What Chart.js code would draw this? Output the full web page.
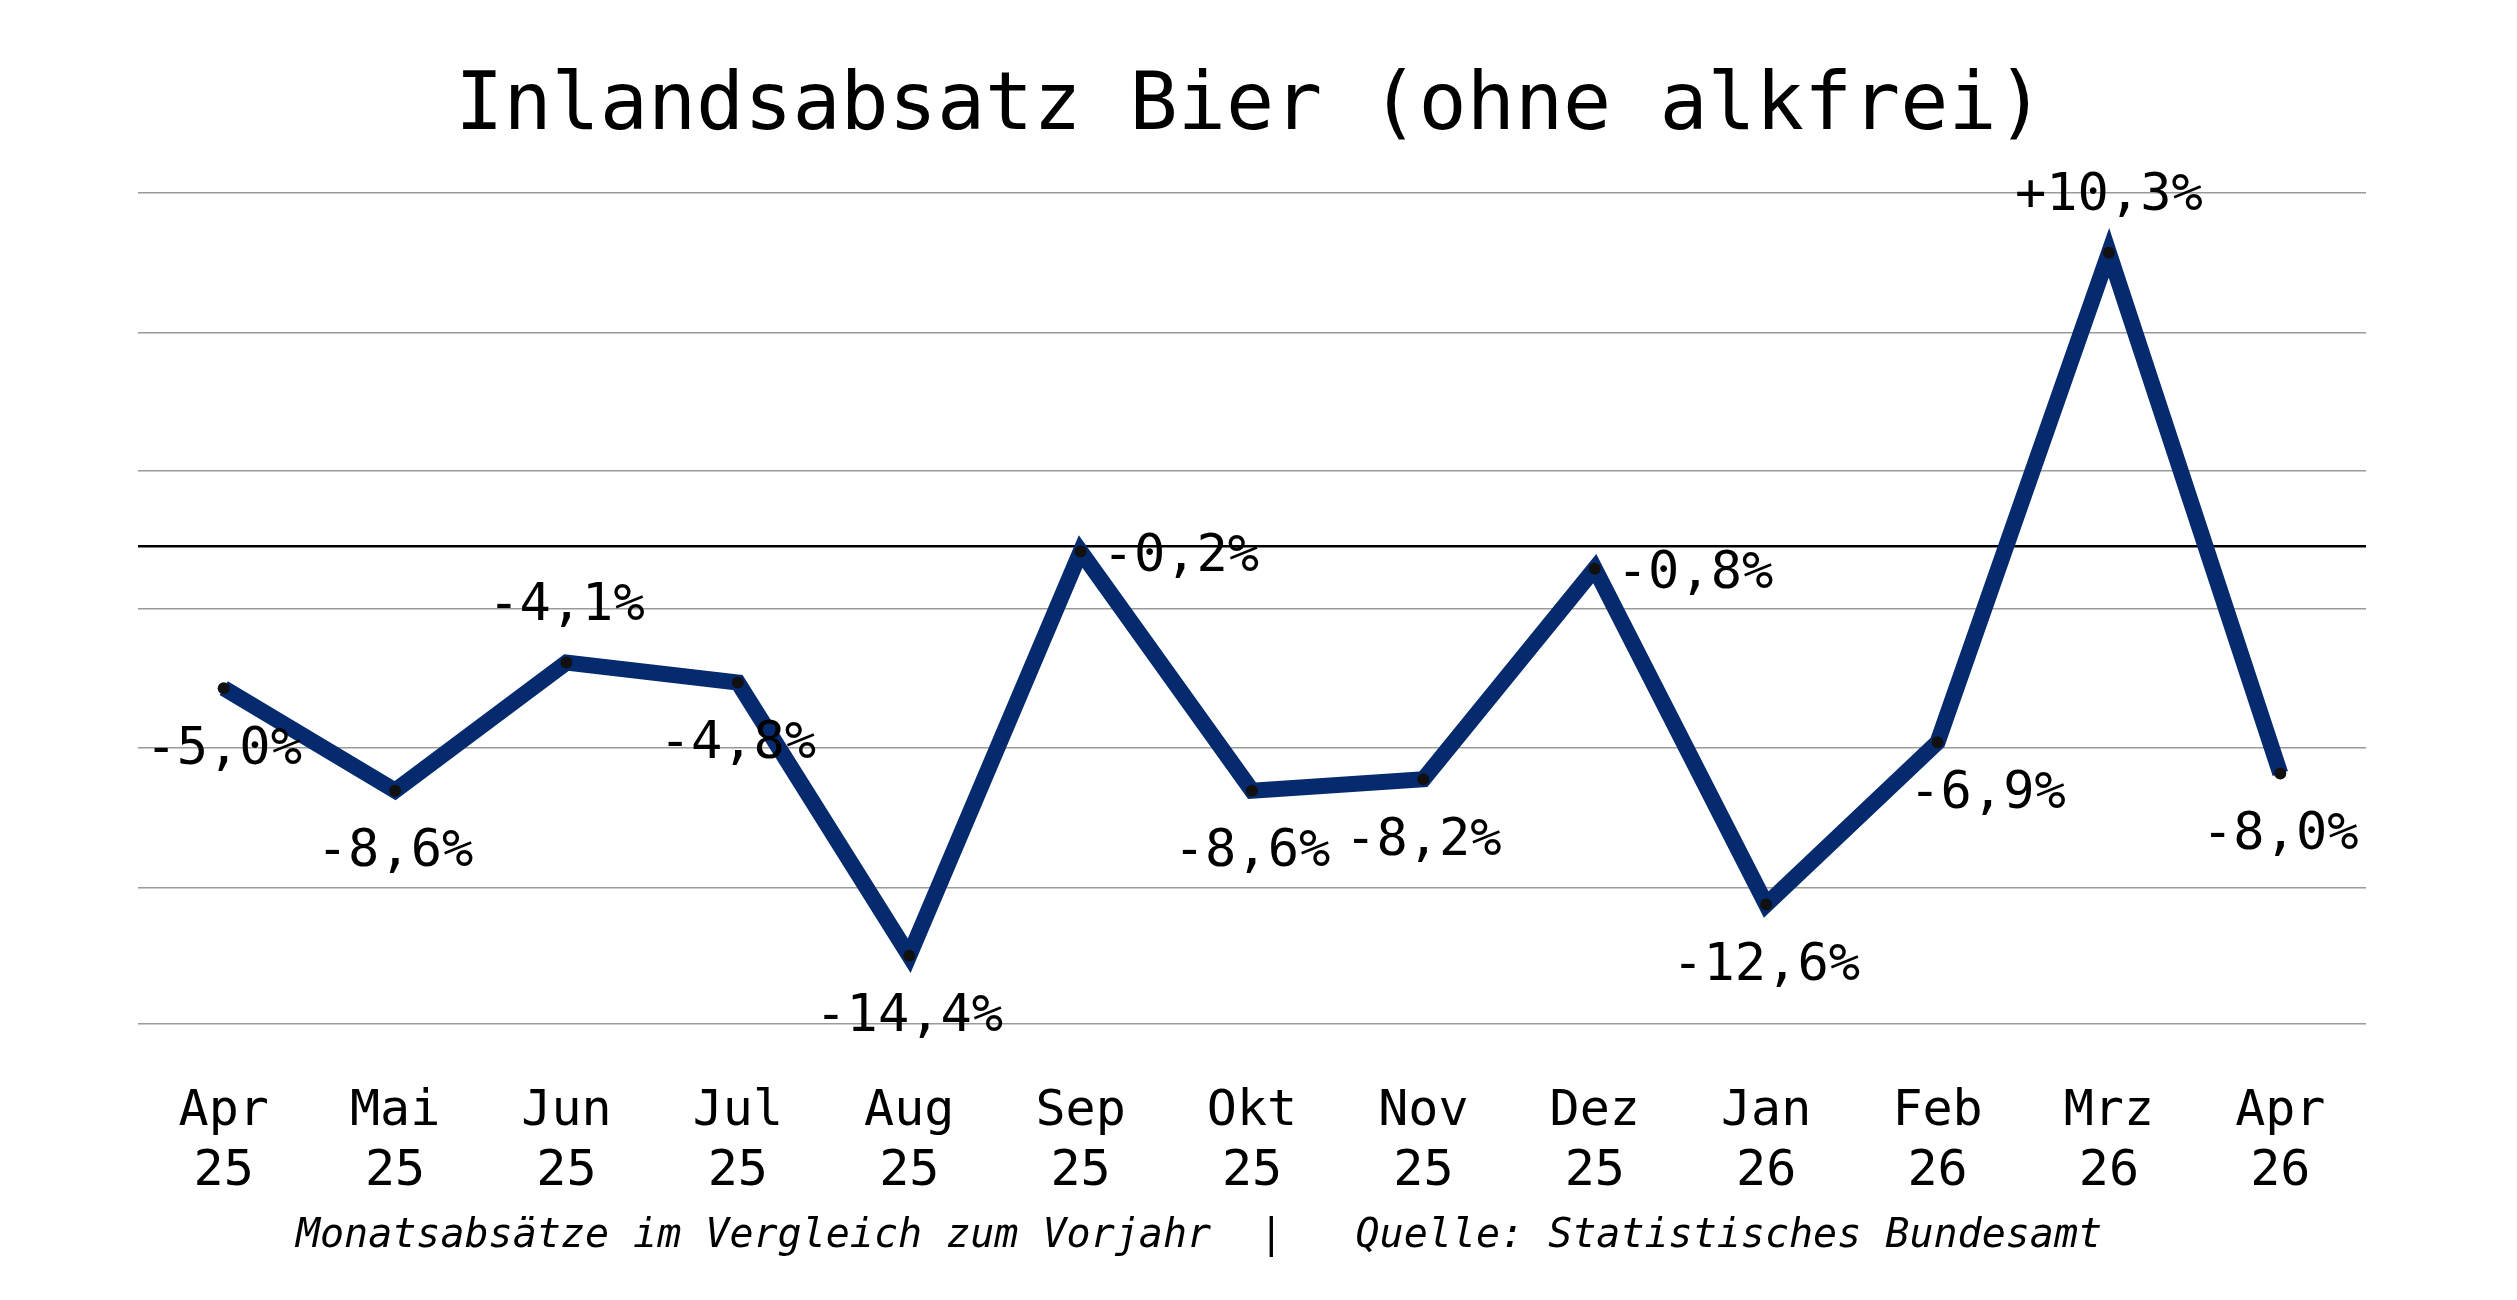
<!DOCTYPE html>
<html><head><meta charset="utf-8">
<script src="https://cdn.jsdelivr.net/npm/chart.js@4"></script>
<style>html,body{margin:0;padding:0;background:#fff}#w{width:2517px;height:1300px}</style>
</head><body><div id="w"><canvas id="c"></canvas></div>
<script>
const months = [["Apr","25"],["Mai","25"],["Jun","25"],["Jul","25"],["Aug","25"],["Sep","25"],["Okt","25"],["Nov","25"],["Dez","25"],["Jan","26"],["Feb","26"],["Mrz","26"],["Apr","26"]];
const values = [-5.0,-8.6,-4.1,-4.8,-14.4,-0.2,-8.6,-8.2,-0.8,-12.6,-6.9,10.3,-8.0];
const valueLabels = ["-5,0%","-8,6%","-4,1%","-4,8%","-14,4%","-0,2%","-8,6%","-8,2%","-0,8%","-12,6%","-6,9%","+10,3%","-8,0%"];
const labelSide = ["below","below","above","below","below","right","below","below","right","below","belowright","above","below"];
const gridTicks = [-16.8,-12,-7.1,-2.2,0,2.65,7.5,12.4];
const titleText = "Inlandsabsatz Bier (ohne alkfrei)";
const captionText = "Monatsabsätze im Vergleich zum Vorjahr  |   Quelle: Statistisches Bundesamt";
const MONO = "'DejaVu Sans Mono', 'Liberation Mono', monospace";

const deco = {
  id:'deco',
  afterDatasetsDraw(chart){
    const ctx = chart.ctx, meta = chart.getDatasetMeta(0);
    ctx.save();
    ctx.fillStyle = '#000';
    ctx.font = '52px ' + MONO;
    ctx.textBaseline = 'middle';
    meta.data.forEach((p,i)=>{
      let x=p.x, y=p.y, s=labelSide[i];
      ctx.textAlign='center';
      if(s==='below'){ y+=62; }
      else if(s==='above'){ y-=56; }
      else if(s==='right'){ ctx.textAlign='left'; x+=22; y+=6; }
      else if(s==='belowright'){ x+=50; y+=52; }
      ctx.fillText(valueLabels[i], x, y);
    });
    ctx.restore();
  },
  afterDraw(chart){
    const ctx = chart.ctx;
    ctx.save();
    ctx.fillStyle='#000';
    ctx.textAlign='center'; ctx.textBaseline='middle';
    ctx.font = '80px ' + MONO;
    ctx.fillText(titleText, 1250, 108);
    ctx.font = 'italic 40px ' + MONO;
    ctx.fillText(captionText, 1199, 1237);
    ctx.restore();
  }
};

new Chart(document.getElementById('c'), {
  type:'line',
  data:{ labels: months, datasets:[{
    data: values, borderColor:'#062a6e', borderWidth:16, tension:0,
    borderJoinStyle:'miter', pointRadius:6, pointBackgroundColor:'#111', pointBorderWidth:0,
    pointHoverRadius:6
  }]},
  options:{
    responsive:true, maintainAspectRatio:false, animation:false,
    layout:{ padding:{ left:138, right:151, top:193, bottom:0 } },
    plugins:{ legend:{display:false}, tooltip:{enabled:false} },
    scales:{
      x:{ offset:true, grid:{display:false}, border:{display:false},
          ticks:{ color:'#000', font:{family:MONO, size:50}, padding:50, maxRotation:0 },
          afterFit(s){ s.height = 276; } },
      y:{ min:-16.8, max:12.4, border:{display:false},
          afterBuildTicks(s){ s.ticks = gridTicks.map(v=>({value:v})); },
          ticks:{ display:false },
          grid:{ drawTicks:false, color:c=>c.tick && c.tick.value===0 ? '#000' : '#9a9a9a',
                 lineWidth:c=>c.tick && c.tick.value===0 ? 2.5 : 1.5 },
          afterFit(s){ s.width = 0; } }
    }
  },
  plugins:[deco]
});
</script></body></html>
